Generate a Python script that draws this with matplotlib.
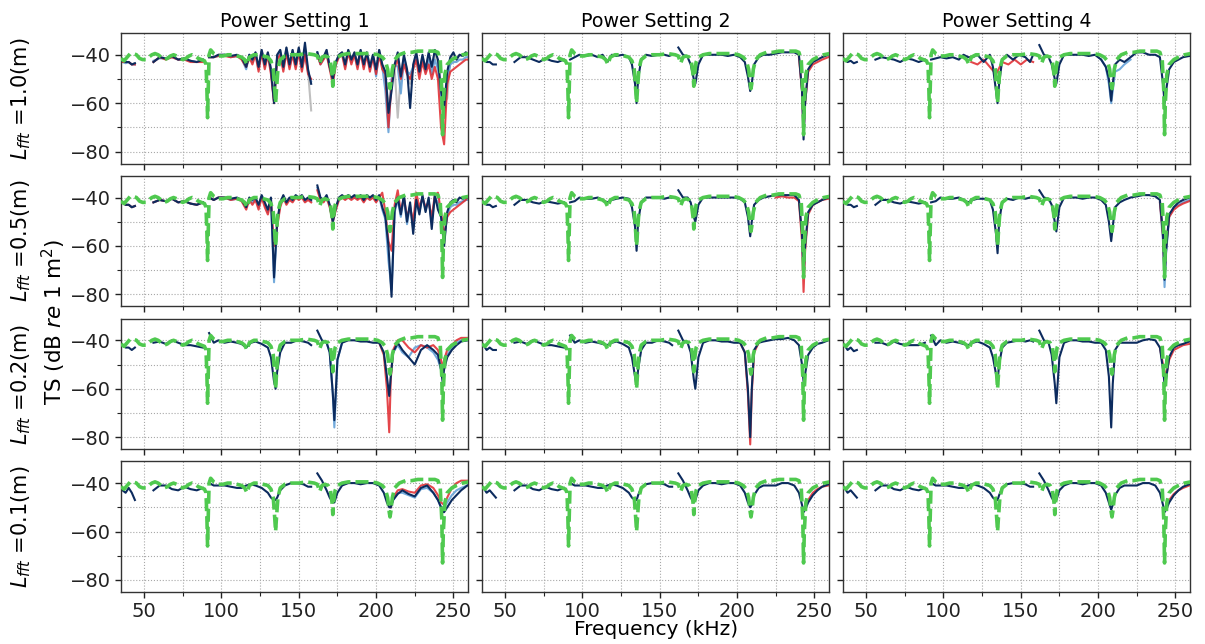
import numpy as np
import matplotlib
matplotlib.use('Agg')
import matplotlib.pyplot as plt
from matplotlib.ticker import MultipleLocator

nan = float('nan')

col_titles = ['Power Setting 1', 'Power Setting 2', 'Power Setting 4']
row_lfft = ['1.0', '0.5', '0.2', '0.1']

# ---------------- model (green dashed) ----------------
model_freq = [35, 37, 39, 41, 43, 45, 47, 49, 51, 53, 55, 57, 59, 61, 63, 65, 67, 69, 71, 73,
              75, 77, 79, 81, 83, 85, 87, 89, 90, 90.6, 91, 91.4, 92, 93, 95, 98, 101, 104, 107, 110,
              113, 115, 116.5, 118, 121, 124, 127, 130, 132, 133.5, 134.5, 135, 135.5, 136.5, 138, 141, 145, 150, 155, 160,
              162, 163.5, 165, 167, 169, 170.5, 171.5, 172, 172.5, 173.5, 175, 178, 182, 187, 192, 197, 201, 204, 206, 207.5,
              208.5, 209, 209.5, 210.5, 212, 215, 219, 223, 227, 231, 235, 238, 240, 241.5, 242.5, 243, 243.5, 244.5, 246, 249,
              252, 256, 260]
model_ts = [-41.5, -42.5, -41, -39.5, -39.5, -40, -41.5, -42, -42, -41, -40, -39.5, -40, -41, -42, -41.5, -40.5, -40, -40.5, -41.5,
            -42, -41.5, -40.5, -40, -40.5, -41.5, -42, -42.5, -44, -55, -66, -55, -40, -38, -39.5, -40.5, -40.5, -40, -40, -40.5,
            -41, -42, -44, -41, -40, -40, -40.5, -41, -42.5, -46, -55, -60, -55, -46, -42, -40.5, -40, -40, -39.5, -40,
            -40.5, -43.5, -41, -40.5, -41, -43, -48, -53, -48, -43, -41, -40, -39.5, -39.5, -39.5, -39.5, -40, -41, -42.5, -46,
            -52, -54, -52, -46, -42, -40, -39, -39, -38.5, -38.5, -38.5, -38.5, -39, -42, -55, -73, -60, -48, -44, -42,
            -41, -40, -39.5]

# ---------------- frequency grids of measurements ----------------
dense_f = [36, 38, 40, 42, 44, 50, 56, 60, 64, 68,
           72, 76, 80, 84, 88, 90.5, 92, 95, 98, 102,
           106, 110, 113, 116, 118, 120, 122, 124, 126, 128,
           130, 132, 134, 136, 138, 140, 142, 144, 146, 148,
           150, 152, 154, 156, 158, 160, 162, 164, 166, 168,
           170, 172, 174, 176, 178, 180, 182, 184, 186, 188,
           190, 192, 194, 196, 198, 200, 202, 204, 206, 208,
           210, 212, 214, 216, 218, 220, 222, 224, 226, 228,
           230, 232, 234, 236, 238, 240, 242, 244, 246, 248,
           250, 252, 254, 256, 258, 259]

grid_f = [36, 38, 40, 42, 44, 50, 56, 60, 64, 68, 72, 76, 80, 84, 88,
          90.5, 92, 95, 98, 102, 106, 110, 113, 116, 119, 122, 126, 130, 132, 134,
          135, 136, 138, 141, 145, 149, 153, 156, 158, 160, 162, 165, 168, 170, 172,
          173, 175, 178, 182, 186, 190, 194, 198, 202, 205, 207, 208.5, 209.5, 211, 214,
          217, 221, 225, 229, 233, 237, 240, 242, 243, 244, 246, 249, 252, 255, 259]

# ---------------- Row 1: L_fft = 1.0 m ----------------
r1c1_navy = [-42, -43, -43, -44, -43.5, nan, -43, -41, -41.5, -40.5,
             -42, -41.5, -42.5, -43, -42, nan, -41, -41, -40, -40,
             -40.5, -40, -41, -45, -40, -42, -39, -45, -38, -44,
             -39, -46, -60, -40, -38, -45, -37, -44, -38, -44,
             -37, -45, -35, -46, -52, nan, -39, -43, -41, -38,
             -45, -50, -43, -40, -39, -44, -38, -42, -39, -44,
             -38, -44, -39, -45, -40, -46, -38, -44, -47, -64,
             -55, -44, -39, -49, -40, -46, -62, -44, -39, -47,
             -40, -46, -39, -45, -38, -42, -55, -62, -47, -41,
             -39, -42, -40, -40.5, -39, -39.5]
r1c1_red = [-43, -43, -43, -44, -44, nan, -43, -41, -42, -41,
            -42, -42, -43, -43, -43, nan, -41, -41, -40.5, -40.5,
            -41, -40.5, -42, -45, -41, -44, -40, -47, -39, -46,
            -40, -48, -60, -42, -40, -47, -39, -46, -40, -46,
            -39, -47, -40, -48, -50, nan, -40, -44, -42, -40,
            -46, -52, -44, -41, -40, -46, -39, -44, -40, -46,
            -39, -46, -40, -47, -41, -48, -40, -46, -48, -70,
            -52, -45, -42, -50, -44, -48, -50, -46, -42, -50,
            -43, -48, -44, -50, -45, -50, -70, -77, -52, -47,
            -46, -45, -44, -43, -42, -42]
r1c1_lblue = [-43, -43.5, -43, -44, -44, nan, -42.5, -41.5, -41.5, -41,
              -42, -42, -42.5, -43, -42.5, nan, -41, -41, -40.5, -40,
              -41, -40.5, -41.5, -46, -40, -43, -39.5, -46, -38.5, -45,
              -39.5, -47, -59, -41, -39, -46, -38, -45, -39, -45,
              -38, -46, -39, -47, -51, nan, -39, -44, -41.5, -39,
              -45, -51, -43, -40.5, -39.5, -45, -38.5, -43, -39.5, -45,
              -38.5, -45, -39.5, -46, -40.5, -49, -39, -45, -55, -72,
              -50, -44, -45, -56, -42, -47, -48, -45, -41, -48,
              -41, -47, -42, -48, -42, -46, -58, -66, -50, -44,
              -43, -43, -42, -42, -41, -41]
r1c1_grey = [-42, -43, -43, -44, -43.5, nan, -43, -41, -41.5, -40.5,
             -42, -41.5, -42.5, -43, -42, nan, -41, -41, -40, -40,
             -41, -40.5, -41, -45, -40, -43, -39, -45, -38, -44,
             -39, -46, -59, -41, -38, -45, -37, -44, -38, -44,
             -37, -45, -38, -47, -63, nan, -39, -43, -41, -38,
             -45, -50, -43, -40, -39, -44, -38, -42, -39, -44,
             -38, -45, -39, -44, -40, -47, -38, -44, -47, -62,
             -52, -46, -66, -48, -41, -46, -52, -45, -40, -47,
             -41, -46, -40, -46, -40, -43, -52, -60, -58, -42,
             -40, -42, -40, -40.5, -39, -39.5]

r1c2_navy = [-42, -43, -43, -44, -44, nan, -43, -41, -41, -42, -43, -41.5, -42.5, -43, -42,
             nan, -42, -41, -40, -40.5, -40, -41, -40, -43, -40, -40.5, -40, -41, -44, -52,
             -60, -50, -42, -40, -40.5, -40, -40, -40.5, -40, nan, -37, -40, -41, -44, -50,
             -52, -44, -40, -40, -40, -40, -40.5, -40, -41, -43, -49, -55, -52, -44, -41,
             -40, -40, -39.5, -39, -39, -39, -40, -55, -75, -60, -46, -43, -42, -41, -40]
r1c2_red_f = [240, 242, 243, 244, 246, 249, 252, 255, 259]
r1c2_red = [-41, -55, -72, -60, -47, -44, -43, -42, -41]

r1c3_navy = [-42, -43, -42.5, -43.5, -43, nan, -42, -41, -41.5, -42, -43, -41.5, -42, -43, -42,
             nan, -42, -41.5, -41, -41.5, -41, -42, -40, -41, -41, -40, -43, -40, -45, -55,
             -60, -52, -42, -40, -42, -40, -41, -43, -40, nan, -36, -40, -41, -44, -50,
             -52, -44, -40, -40, -40, -40, -40.5, -40, -42, -45, -50, -59, -52, -44, -42,
             -43, -41, -39, -39, -40, -40, -41, -52, -60, -55, -46, -43, -42, -41, -40.5]
r1c3_red_f = [118, 122, 126, 130, 134, 138, 142, 146, 150, 154, 158]
r1c3_red = [-43, -44, -42, -45, -48, -43, -44, -42, -44, -42, -43]
r1c3_lblue_f = [202, 205, 207, 208.5, 209.5, 211, 214, 217, 221]
r1c3_lblue = [-42, -45, -52, -60, -55, -47, -46, -44, -42]

# ---------------- Row 2: L_fft = 0.5 m ----------------
r2c1_navy = [-42, -43, -43, -44, -43.5, nan, -42, -41, -41.5, -40.5,
             -42, -41.5, -42.5, -43, -42, nan, -40, -41, -40, -40,
             -40.5, -40, -41, -44, -40, -41, -40, -43, -39, -42,
             -45, -40, -73, -50, -42, -39, -42, -40, -41, -39,
             -40, -39, -41, -40, -41, nan, -35, -40, -41, -39,
             -43, -50, -44, -40, -39, -40, -39, -40, -39, -40,
             -39, -41, -39, -40, -39, -41, -39, -44, -48, -60,
             -81, -45, -40, -47, -39, -50, -42, -55, -41, -47,
             -39, -46, -40, -53, -39, -45, -48, -60, -46, -42,
             -41, -42, -40, -40.5, -40, -40]
r2c1_red = [-42, -43, -43, -44, -43.5, nan, -42, -41, -41.5, -40.5,
            -42, -41.5, -42.5, -43, -42, nan, -40, -41, -40, -40,
            -41, -40.5, -41.5, -45, -41, -43, -41, -45, -40, -44,
            -47, -41, -60, -52, -44, -40, -43, -41, -42, -40,
            -41, -40, -42, -41, -42, nan, -37, -41, -42, -40,
            -44, -50, -45, -41, -40, -41, -40, -41, -40, -41,
            -40, -42, -40, -41, -40, -42, -40, -38, -46, -58,
            -62, -43, -37, -46, -40, -48, -44, -50, -38, -44,
            -40, -44, -42, -48, -39, -38, -46, -56, -48, -46,
            -45, -44, -43, -42, -41, -40]
r2c1_lblue = [-42, -43, -43, -44, -43.5, nan, -42, -41, -41.5, -40.5,
              -42, -41.5, -42.5, -43, -42, nan, -40, -41, -40, -40,
              -41, -40.5, -41, -44, -40.5, -42, -40.5, -44, -39.5, -43,
              -46, -40.5, -75, -51, -43, -39.5, -42.5, -40.5, -41.5, -39.5,
              -40.5, -39.5, -41.5, -40.5, -41.5, nan, -36, -40.5, -41.5, -39.5,
              -43.5, -50, -44.5, -40.5, -39.5, -40.5, -39.5, -40.5, -39.5, -40.5,
              -39.5, -41.5, -39.5, -40.5, -39.5, -41.5, -39.5, -45, -49, -66,
              -78, -46, -41, -48, -40, -51, -43, -53, -41, -46,
              -40, -45, -41, -50, -40, -42, -47, -58, -47, -44,
              -43, -43, -42, -41.5, -41, -41]

r2c2_navy = [-42, -43, -43, -44, -43.5, nan, -43, -41, -41, -42, -42.5, -41.5, -42, -42.5, -42,
             nan, -42, -41.5, -40, -40.5, -40.5, -40, -41, -42, -41, -40.5, -40, -40.5, -44, -52,
             -62, -50, -42, -40, -40, -40, -40.5, -40, -40, nan, -37, -40, -40, -42, -48,
             -50, -43, -40, -40, -40, -40, -40, -40, -40.5, -42, -48, -56, -50, -43, -41,
             -40, -39.5, -39, -39, -39, -39, -41, -55, -73, -60, -46, -43, -42, -41, -40]
r2c2_red_f = [225, 229, 233, 237, 240, 242, 243, 244, 246, 249, 252, 255, 259]
r2c2_red = [-40, -39.5, -40, -40, -41.5, -58, -79, -62, -47, -43, -42, -41, -40.5]

r2c3_navy = [-42, -43, -43, -44, -43.5, nan, -43, -41, -41, -42, -42.5, -41.5, -42, -42.5, -42,
             nan, -42, -41.5, -40, -40.5, -40.5, -40, -41, -42, -41, -40.5, -40.5, -41, -45, -55,
             -63, -50, -42, -40.5, -41, -40, -40.5, -40, -40, nan, -37, -40, -40.5, -43, -50,
             -54, -44, -40, -40, -40, -40.5, -40, -40, -41, -43, -50, -58, -52, -44, -42,
             -41, -40, -39.5, -39, -39, -39.5, -41, -55, -74, -62, -47, -44, -42, -41, -40]
r2c3_lblue_f = [240, 242, 243, 244, 246, 249, 252, 255, 259]
r2c3_lblue = [-42, -58, -77, -63, -48, -44, -43, -42, -41]
r2c3_red = [-42, -56, -72, -60, -48, -45, -43.5, -42.5, -41.5]

# ---------------- Row 3: L_fft = 0.2 m ----------------
r3c1_navy = [-42, -43, -43, -44, -43, nan, -41, -40.5, -41.5, -40, -41, -42, -42, -42.5, -43,
             nan, -37, -41, -40, -41, -40.5, -41, -41.5, -43, -41, -40.5, -41.5, -43, -47, -57,
             -60, -53, -45, -41, -41, -40, -40.5, -41, -42, nan, -36, -40, -41, -45, -62,
             -73, -48, -41, -40, -40, -40.5, -40.5, -41, -41, -45, -55, -63, -55, -45, -41,
             -44, -47, -50, -44, -42, -44, -46, -52, -57, -52, -47, -44, -42, -40.5, -40]
r3c1_red_f = [202, 205, 207, 208.5, 209.5, 211, 214, 217, 221, 225, 229, 233, 237, 240, 242, 243, 244, 246, 249, 252, 255, 259]
r3c1_red = [-41, -46, -60, -78, -56, -44, -40, -40, -43, -45, -42, -43, -42, -44, -48, -52, -48, -44, -42, -40, -39, -39]
r3c1_lblue_f = [168, 170, 172, 173, 175, 178, 190, 211, 214, 217, 221, 225, 229, 233, 237, 240, 242, 243, 244, 246, 249, 252, 255, 259]
r3c1_lblue = [-41, -45, -62, -76, -48, -41, nan, -45, -42, -45, -47, -43, -42, -43, -45, -48, -52, -54, -50, -46, -43, -41, -40, -40]

r3c2_navy = [-42, -44, -43, -44, -44, nan, -41, -40.5, -41.5, -40, -41, -42, -42, -42.5, -43,
             nan, -38, -41, -40, -41, -40.5, -41, -41.5, -42, -41, -40.5, -41.5, -43, -47, -55,
             -59, -52, -44, -41, -41, -40, -40.5, -41, -42, nan, -36, -40, -41, -45, -56,
             -60, -47, -41, -40, -40, -40.5, -40.5, -41, -41, -45, -60, -80, -60, -44, -41,
             -40.5, -40, -39.5, -39.5, -39, -40, -42, -50, -57, -54, -46, -43, -41.5, -41, -40]
r3c2_red_f = [202, 205, 207, 208.5, 209.5, 211, 214]
r3c2_red = [-41, -45, -62, -83, -62, -45, -41]

r3c3_navy = [-42, -44, -43, -44.5, -44, nan, -41, -41, -42, -40.5, -41.5, -42, -42, -42, -41,
             nan, -38, -42, -40, -41, -40.5, -41, -41.5, -42, -41, -40.5, -41.5, -43, -47, -54,
             -57, -50, -43, -41, -40.5, -40, -40.5, -40, -40.5, nan, -36, -40, -41, -46, -58,
             -66, -47, -41, -40, -40, -40.5, -40.5, -41, -41, -44, -55, -76, -58, -44, -41,
             -41, -41, -41, -40, -39.5, -40, -43, -52, -58, -56, -47, -43, -42, -41.5, -40.5]
r3c3_red_f = [240, 242, 244, 246, 249, 252, 255, 259]
r3c3_red = [-43, -50, -55, -48, -44, -43, -42, -41.5]

# ---------------- Row 4: L_fft = 0.1 m ----------------
r4c1_navy = [-43, -44, -42, -44, -47, nan, -43, -41, -41, -42.5, -43, -41.5, -42.5, -43, -42,
             nan, -40, -41, -41, -41, -41.5, -42, -42, -41, -40.5, -41, -42, -44, -46, -47,
             -47, -46, -43, -41, -40, -40, -40.5, -41.5, -41.5, nan, -36, -39, -43, -46, -48,
             -48, -44, -41, -40, -40, -40.5, -40, -40, -41, -44, -48, -50, -50, -47, -44.5,
             -43, -44.5, -45.5, -42, -41, -44, -47, -50, -52, -52, -50, -47, -45, -43, -41]
r4c1_red_f = [209.5, 211, 214, 217, 221, 225, 229, 233, 237, 240, 242, 244, 246, 249, 252, 255, 259]
r4c1_red = [-50, -46, -43, -42.5, -43.5, -44, -41, -40.5, -42, -45, -48, -49, -46, -42, -40, -39, -39]
r4c1_lblue = [-50, -47, -44, -44, -45, -46, -42.5, -42, -44, -47, -50, -50, -48, -45, -43, -42, -41]

r4c2_navy = [-42, -44, -43, -44.5, -46, nan, -43, -41, -41, -42.5, -43, -41.5, -42.5, -43, -42,
             nan, -40, -41, -41, -41, -41.5, -42, -42, -41, -40.5, -41, -42, -44, -46, -47,
             -47, -45, -42, -40.5, -40, -40, -40.5, -41.5, -41.5, nan, -36, -39, -43, -46, -48,
             -47, -43, -41, -40, -40, -40.5, -40, -40, -41, -44, -48, -50, -49, -45, -42,
             -41, -41, -41, -40, -40, -41, -44, -49, -52, -51, -48, -45, -43, -41.5, -40.5]
r4c2_red_f = [246, 249, 252, 255, 259]
r4c2_red = [-47, -44, -42.5, -41.5, -41]

r4c3_navy = [-42, -44, -43, -44.5, -46, nan, -43, -41, -41, -42.5, -43, -41.5, -42.5, -43, -42,
             nan, -40, -41, -41, -41, -41.5, -42, -42, -41, -40.5, -41, -42, -44, -46, -47,
             -47, -45, -42, -40.5, -40, -40, -40.5, -41.5, -41.5, nan, -36, -39, -43, -46, -48,
             -47, -43, -41, -40, -40, -40.5, -40, -40, -41, -44, -48, -51, -49, -45, -42,
             -41, -41, -41, -40, -40, -41, -44, -49, -52, -51, -48, -45, -43, -41.5, -40.5]
r4c3_red_f = [246, 249, 252, 255, 259]
r4c3_red = [-47, -44.5, -43, -42, -41]

# ---------------- style ----------------
NAVY = '#0c2b5e'
RED = '#e0262b'
LBLUE = '#5b9bd5'
GREY = '#b4b4b4'
GREEN = '#4fc94f'

plt.rcParams['font.family'] = ['DejaVu Sans']
plt.rcParams['mathtext.fontset'] = 'dejavusans'

panels = {
    (0, 0): [(dense_f, r1c1_grey, GREY), (dense_f, r1c1_lblue, LBLUE), (dense_f, r1c1_red, RED), (dense_f, r1c1_navy, NAVY)],
    (0, 1): [(r1c2_red_f, r1c2_red, RED), (grid_f, r1c2_navy, NAVY)],
    (0, 2): [(r1c3_lblue_f, r1c3_lblue, LBLUE), (r1c3_red_f, r1c3_red, RED), (grid_f, r1c3_navy, NAVY)],
    (1, 0): [(dense_f, r2c1_lblue, LBLUE), (dense_f, r2c1_red, RED), (dense_f, r2c1_navy, NAVY)],
    (1, 1): [(r2c2_red_f, r2c2_red, RED), (grid_f, r2c2_navy, NAVY)],
    (1, 2): [(r2c3_lblue_f, r2c3_lblue, LBLUE), (r2c3_lblue_f, r2c3_red, RED), (grid_f, r2c3_navy, NAVY)],
    (2, 0): [(r3c1_lblue_f, r3c1_lblue, LBLUE), (r3c1_red_f, r3c1_red, RED), (grid_f, r3c1_navy, NAVY)],
    (2, 1): [(r3c2_red_f, r3c2_red, RED), (grid_f, r3c2_navy, NAVY)],
    (2, 2): [(r3c3_red_f, r3c3_red, RED), (grid_f, r3c3_navy, NAVY)],
    (3, 0): [(r4c1_red_f, r4c1_lblue, LBLUE), (r4c1_red_f, r4c1_red, RED), (grid_f, r4c1_navy, NAVY)],
    (3, 1): [(r4c2_red_f, r4c2_red, RED), (grid_f, r4c2_navy, NAVY)],
    (3, 2): [(r4c3_red_f, r4c3_red, RED), (grid_f, r4c3_navy, NAVY)],
}

fig = plt.figure(figsize=(12.05, 6.44), dpi=100)
gs = fig.add_gridspec(4, 3, left=0.1004, right=0.9876, top=0.9488, bottom=0.0807,
                      hspace=0.092, wspace=0.04)
axes = gs.subplots(sharex=True, sharey=True)

for (r, c), series in panels.items():
    ax = axes[r, c]
    for f, v, col in series:
        alpha = 1.0 if col == NAVY else 0.85
        ax.plot(f, v, color=col, lw=1.5, alpha=alpha, zorder=2)
    ax.plot(model_freq, model_ts, color=GREEN, lw=2.6, ls=(0, (3.6, 1.4)), zorder=3)
    ax.set_xlim(35, 259.5)
    ax.set_ylim(-85, -31)
    ax.xaxis.set_major_locator(MultipleLocator(50))
    ax.xaxis.set_minor_locator(MultipleLocator(25))
    ax.yaxis.set_major_locator(MultipleLocator(20))
    ax.yaxis.set_minor_locator(MultipleLocator(10))
    ax.grid(True, which='both', ls=':', color='#a8a8a8', lw=0.8, zorder=0)
    ax.tick_params(which='major', length=4.5, width=1, labelsize=14, colors='#222222', pad=3)
    ax.tick_params(which='minor', length=3, width=0.8, colors='#222222')
    for s in ax.spines.values():
        s.set_color('#333333')
        s.set_linewidth(1.0)
    if r == 0:
        ax.set_title(col_titles[c], fontsize=13.7, pad=4)

# row labels
for r in range(4):
    pos = axes[r, 0].get_position()
    yc = 0.5 * (pos.y0 + pos.y1)
    fig.text(21 / 1205, yc, r'$L_{fft}$ =' + row_lfft[r] + '(m)', rotation=90,
             ha='center', va='center', fontsize=15)

fig.text(54 / 1205, 0.5, r'TS (dB $re$ 1 m$^2$)', rotation=90, ha='center', va='center',
         fontsize=15.5)
fig.text(0.5445, 0.022, 'Frequency (kHz)', ha='center', va='center', fontsize=14.5)

fig.savefig('out.png', dpi=100)
